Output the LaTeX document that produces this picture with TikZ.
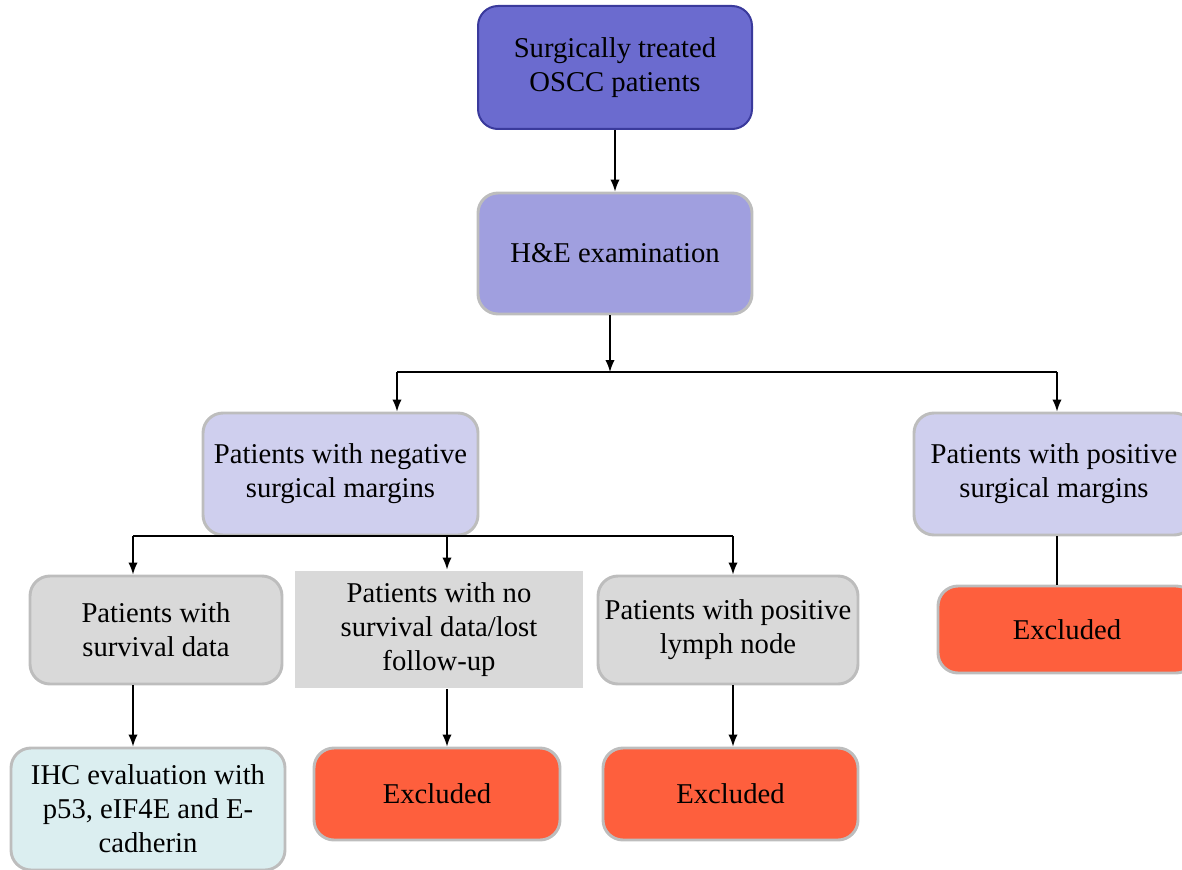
\documentclass[tikz,border=0pt]{standalone}
\usepackage{fontspec}
\setmainfont{Liberation Serif}
\usetikzlibrary{arrows.meta}

\definecolor{startfill}{HTML}{6B6BCF}
\definecolor{startedge}{HTML}{3A3A9C}
\definecolor{stainfill}{HTML}{A09FDF}
\definecolor{marginfill}{HTML}{CFCFEE}
\definecolor{greyfill}{HTML}{D9D9D9}
\definecolor{boxedge}{HTML}{BDBDBD}
\definecolor{exclfill}{HTML}{FE5F3D}
\definecolor{ihcfill}{HTML}{DBEEF0}

\tikzset{
  box/.style={draw=boxedge, line width=2.2pt, rounded corners=15pt,
    align=center, inner sep=0pt, font=\fontsize{21.5}{25.5}\selectfont},
  flatbox/.style={box, draw=none, sharp corners},
  excl/.style={box, fill=exclfill}
}

\begin{document}
\begin{tikzpicture}[x=0.75pt, y=-0.75pt, line width=1.1pt,
    >={Latex[width=7pt,length=9pt]}]
  \useasboundingbox (0,0) rectangle (1182,870);
  \clip (0,0) rectangle (1182,870);

  % Draw the boxes
  \node[box, fill=startfill, draw=startedge, line width=1.5pt,
    minimum width=205.5pt, minimum height=92.25pt]
    (start) at (615,67.5) {Surgically treated\\OSCC patients};
  \node[box, fill=stainfill, minimum width=205.5pt, minimum height=90.75pt]
    (stain) at (615,253.5) {H\&E examination};

  \node[box, fill=marginfill, minimum width=206.25pt, minimum height=91.5pt]
    (negmargin) at (340.5,474) {Patients with negative\\surgical margins};
  \node[box, fill=marginfill, minimum width=210pt, minimum height=91.5pt]
    (posmargin) at (1054,474) {Patients with positive\\surgical margins};

  \node[box, fill=greyfill, minimum width=189pt, minimum height=81pt]
    (survival) at (156,630) {Patients with\\survival data};
  \node[flatbox, fill=greyfill, minimum width=216pt, minimum height=87.75pt]
    (nosurvival) at (439,629.5) {Patients with no\\survival data/lost\\follow-up};
  \node[box, fill=greyfill, minimum width=195pt, minimum height=81pt]
    (lymph) at (728,630) {Patients with positive\\lymph node};
  \node[excl, minimum width=193.5pt, minimum height=65.25pt]
    (exclmargin) at (1067,629.5) {Excluded};

  \node[box, fill=ihcfill, minimum width=205.5pt, minimum height=91.5pt]
    (ihc) at (148,809) {IHC evaluation with\\p53, eIF4E and E-\\cadherin};
  \node[excl, minimum width=184.5pt, minimum height=69pt]
    (exclnodata) at (437,794) {Excluded};
  \node[excl, minimum width=191.25pt, minimum height=69pt]
    (excllymph) at (730.5,794) {Excluded};

  % Split points of the connectors
  \coordinate (splitA) at (610,372);
  \coordinate (leftA) at (397,372);
  \coordinate (rightA) at (1057,372);
  \coordinate (leftB) at (133,536);
  \coordinate (midB) at (447,536);
  \coordinate (rightB) at (733,536);

  % Draw the connectors
  \draw[->] (start) -- (stain);
  \draw[->] (stain.south -| splitA) -- (splitA);
  \draw (leftA) -- (rightA);
  \draw[->] (leftA) -- (leftA |- negmargin.north);
  \draw[->] (rightA) -- (rightA |- posmargin.north);

  \draw (leftB) -- (rightB);
  \draw[->] (leftB) -- (leftB |- survival.north);
  \draw[->] (midB) -- (midB |- nosurvival.north);
  \draw[->] (rightB) -- (rightB |- lymph.north);

  \draw[->] (survival.south -| leftB) -- (ihc.north -| leftB);
  \draw[->] (nosurvival.south -| midB) -- (exclnodata.north -| midB);
  \draw[->] (lymph.south -| rightB) -- (excllymph.north -| rightB);
  \draw (posmargin.south -| rightA) -- (exclmargin.north -| rightA);
\end{tikzpicture}
\end{document}
